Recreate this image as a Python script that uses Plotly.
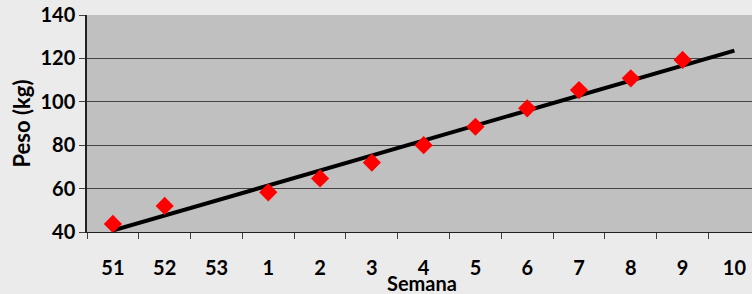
import plotly.graph_objects as go

categories = ["51", "52", "53", "1", "2", "3", "4", "5", "6", "7", "8", "9", "10"]
point_weeks = ["51", "52", "1", "2", "3", "4", "5", "6", "7", "8", "9"]
point_weights = [43.7, 52.0, 58.3, 64.7, 72.0, 80.0, 88.5, 97.0, 105.4, 110.8, 119.3]
trend_weeks = ["51", "10"]
trend_weights = [40.7, 123.6]
y_ticks = [40, 60, 80, 100, 120, 140]

FONT = "Lato"

fig = go.Figure()
fig.add_trace(go.Scatter(
    x=trend_weeks, y=trend_weights, mode="lines",
    line=dict(color="black", width=4), showlegend=False, hoverinfo="skip"))
fig.add_trace(go.Scatter(
    x=point_weeks, y=point_weights, mode="markers",
    marker=dict(symbol="diamond", size=14, color="#ff0000"), showlegend=False))

fig.update_layout(
    width=752, height=294,
    margin=dict(l=87, r=0, t=15, b=62, autoexpand=False),
    paper_bgcolor="#ebebeb", plot_bgcolor="#c0c0c0",
    font=dict(family=FONT, color="black", size=20, weight="bold"),
    xaxis=dict(
        type="category", categoryorder="array", categoryarray=categories,
        range=[-0.5, 12.34], showgrid=False, automargin=False,
        showline=True, linecolor="#202020", linewidth=1,
        ticks="outside", tickson="boundaries", ticklen=6, tickcolor="#404040",
        ticklabelstandoff=18,
        tickfont=dict(family=FONT, size=20, weight="bold"),
    ),
    yaxis=dict(
        range=[40, 140], tickvals=y_ticks, showgrid=True, automargin=False,
        gridcolor="#444444", gridwidth=1.4,
        showline=True, linecolor="#202020", linewidth=1.5,
        ticks="outside", ticklen=6, tickcolor="#404040",
        ticksuffix=" ",
        zeroline=False,
        tickfont=dict(family=FONT, size=20, weight="bold"),
    ),
    annotations=[
        dict(text="Semana", xref="paper", yref="paper", x=(422 - 87) / 665, y=(232 - 283) / 217,
             xanchor="center", yanchor="middle", showarrow=False,
             font=dict(family=FONT, size=20, weight="bold")),
        dict(text="Peso (kg)", xref="paper", yref="paper", x=(21 - 87) / 665, y=0.5,
             xanchor="center", yanchor="middle", textangle=-90, showarrow=False,
             font=dict(family=FONT, size=22, weight="bold")),
    ],
)

fig.write_html(
    "out.html",
    config={"displayModeBar": False},
    post_script="document.body.style.margin='0';document.body.style.background='#ebebeb';",
)
